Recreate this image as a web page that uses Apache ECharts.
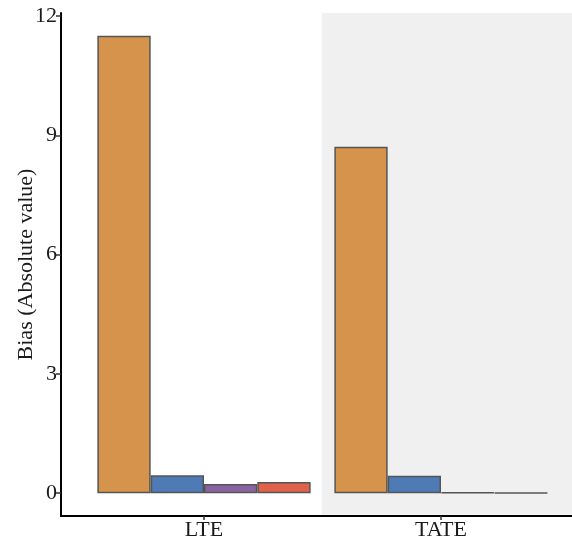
<!DOCTYPE html>
<html><head><meta charset="utf-8">
<script src="https://cdn.jsdelivr.net/npm/echarts@6/dist/echarts.min.js"></script>
<style>html,body{margin:0;padding:0;background:#fff}#c{width:572px;height:546px}</style>
</head><body><div id="c"></div>
<script>
const categories = ['LTE', 'TATE'];
const seriesOrange = [11.5, 8.71];
const seriesBlue = [0.45, 0.44];
const seriesPurple = [0.23, 0.02];
const seriesRed = [0.28, 0.01];
const yTicks = [0, 3, 6, 9, 12];
const yTitle = 'Bias (Absolute value)';

const colors = ['#D6934C', '#4E7AB5', '#8A64A0', '#E0624A'];
const values = [seriesOrange, seriesBlue, seriesPurple, seriesRed];
const FONT = 'Liberation Serif';
const yMin = -0.575, yMax = 12.075;
const band = 237;
const axesLeft = 61, axesWidth = 511;
const xMinU = -0.6, xMaxU = -0.6 + axesWidth / band;

const chart = echarts.init(document.getElementById('c'));
chart.setOption({
  animation: false,
  backgroundColor: '#fff',
  grid: [
    {left: axesLeft, width: axesWidth, top: 13, height: 503, containLabel: false, outerBoundsMode: 'none'},
    {left: 85.5, width: 474, top: 13, height: 503, containLabel: false, outerBoundsMode: 'none'}
  ],
  xAxis: [
    {type: 'value', gridIndex: 0, min: xMinU, max: xMaxU,
     axisLine: {show: true, onZero: false, lineStyle: {color: '#000', width: 2}},
     axisTick: {show: false}, axisLabel: {show: false}, splitLine: {show: false}},
    {type: 'category', gridIndex: 1, data: categories,
     axisLine: {show: false, onZero: false},
     axisTick: {show: true, alignWithLabel: true, length: 4, lineStyle: {color: '#333', width: 1.5}},
     axisLabel: {fontFamily: FONT, fontSize: 22, color: '#1a1a1a', margin: 3}}
  ],
  yAxis: [
    {type: 'value', gridIndex: 0, min: yMin, max: yMax, interval: 3,
     axisLine: {show: true, onZero: false, lineStyle: {color: '#000', width: 2}},
     axisLabel: {fontFamily: FONT, fontSize: 22, color: '#1a1a1a', margin: 4,
       customValues: yTicks, formatter: v => String(v)},
     axisTick: {show: true, length: 5, customValues: yTicks, lineStyle: {color: '#333', width: 1.5}},
     splitLine: {show: false},
     name: yTitle, nameLocation: 'middle', nameGap: 24, nameMoveOverlap: false,
     nameTextStyle: {fontFamily: FONT, fontSize: 22, color: '#1a1a1a'}},
    {type: 'value', gridIndex: 1, min: yMin, max: yMax, show: false}
  ],
  series: [
    {type: 'line', xAxisIndex: 0, yAxisIndex: 0, data: [], silent: true,
     markArea: {silent: true, itemStyle: {color: '#F0F0F0'},
       data: [[{xAxis: 0.5, yAxis: yMin + 0.04}, {xAxis: xMaxU, yAxis: yMax}]]}}
  ].concat(values.map((v, i) => ({
    type: 'bar', xAxisIndex: 1, yAxisIndex: 1, data: v,
    barGap: '0%', barCategoryGap: '10%',
    itemStyle: {color: colors[i], borderColor: '#555', borderWidth: 1.5}
  })))
});
</script></body></html>
